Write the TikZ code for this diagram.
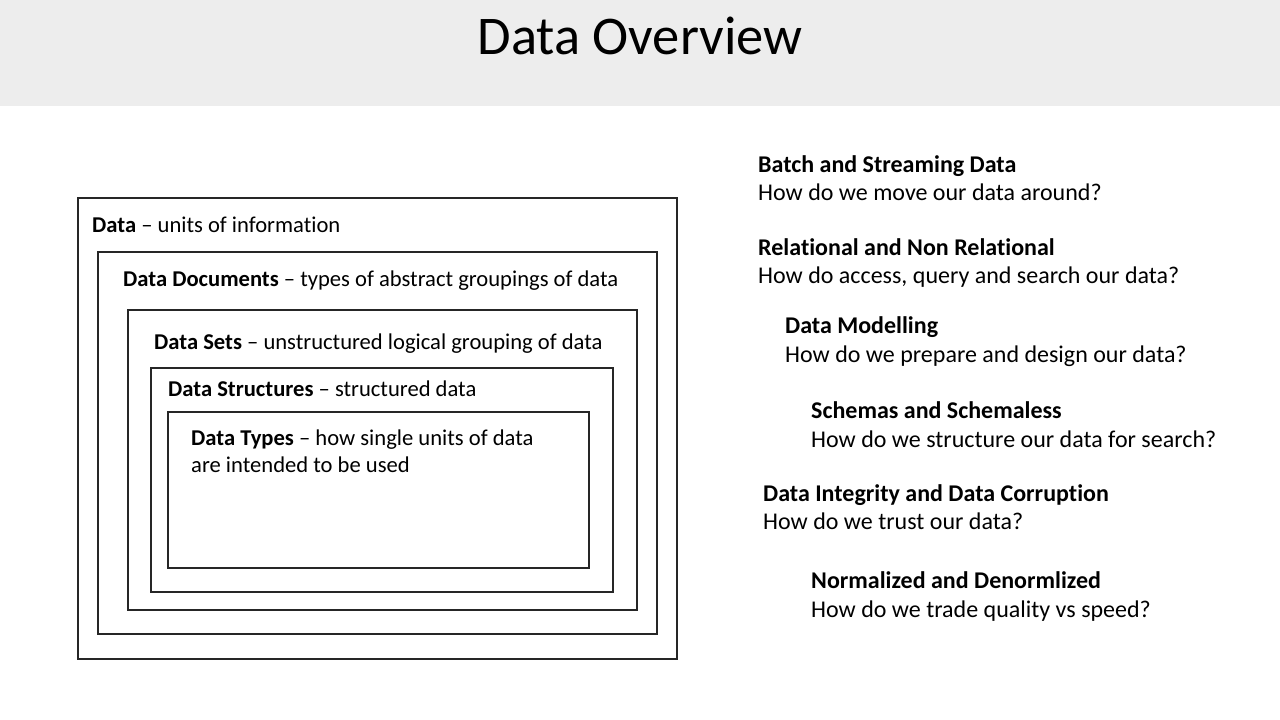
\documentclass[tikz,border=0pt]{standalone}
\usepackage{fontspec}
\setmainfont[Ligatures=CommonOff]{Carlito}
\begin{document}
\begin{tikzpicture}[x=1pt,y=-1pt,
  boxline/.style={draw=black!85,line width=1.5pt},
  txt/.style={anchor=base west,inner sep=0pt,font=\fontsize{22.6}{27}\selectfont},
  rtxt/.style={anchor=base west,inner sep=0pt,font=\fontsize{24}{28}\selectfont},
]
\useasboundingbox (0,0) rectangle (1280,720);
\fill[white] (0,0) rectangle (1280,720);
\fill[black!7] (0,0) rectangle (1280,106);
\node[anchor=base,inner sep=0pt,font=\fontsize{54.5}{60}\selectfont] (title) at (640,54) {Data Overview};

% nested boxes
\draw[boxline] (78,198) rectangle (677,659);
\draw[boxline] (98,252) rectangle (657,634);
\draw[boxline] (128,310) rectangle (637,610);
\draw[boxline] (151,368) rectangle (613,592);
\draw[boxline] (168,412) rectangle (589,568);

\node[txt] (t1) at (92,232) {\textbf{Data} -- units of information};
\node[txt] (t2) at (123,286) {\textbf{Data Documents} -- types of abstract groupings of data};
\node[txt] (t3) at (154,349) {\textbf{Data Sets} -- unstructured logical grouping of data};
\node[txt] (t4) at (168,396) {\textbf{Data Structures} -- structured data};
\node[txt] (t5a) at (191,445) {\textbf{Data Types} -- how single units of data};
\node[txt] (t5b) at (191,472) {are intended to be used};

% right column
\node[rtxt] (r1h) at (758,172) {\textbf{Batch and Streaming Data}};
\node[rtxt] (r1t) at (758,200) {How do we move our data around?};
\node[rtxt] (r2h) at (758,255) {\textbf{Relational and Non Relational}};
\node[rtxt] (r2t) at (758,283) {How do access, query and search our data?};
\node[rtxt] (r3h) at (785,333) {\textbf{Data Modelling}};
\node[rtxt] (r3t) at (785,362) {How do we prepare and design our data?};
\node[rtxt] (r4h) at (811,418) {\textbf{Schemas and Schemaless}};
\node[rtxt] (r4t) at (811,447) {How do we structure our data for search?};
\node[rtxt] (r5h) at (763,501) {\textbf{Data Integrity and Data Corruption}};
\node[rtxt] (r5t) at (763,529) {How do we trust our data?};
\node[rtxt] (r6h) at (811,588) {\textbf{Normalized and Denormlized}};
\node[rtxt] (r6t) at (811,617) {How do we trade quality vs speed?};
\end{tikzpicture}
\end{document}
